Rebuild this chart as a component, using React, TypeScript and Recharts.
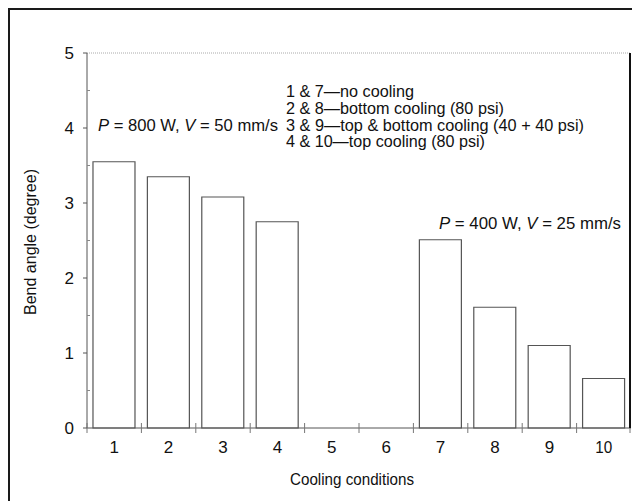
import { BarChart, Bar, XAxis, YAxis, ReferenceLine } from 'recharts';

// Bend angle per cooling condition (5 and 6 have no bar)
const conditions = ['1', '2', '3', '4', '5', '6', '7', '8', '9', '10'];
const bendAngle = [3.55, 3.35, 3.08, 2.75, null, null, 2.51, 1.61, 1.1, 0.66];
const yTicks = [0, 0.5, 1, 1.5, 2, 2.5, 3, 3.5, 4, 4.5, 5];
const legendLines = [
  { text: '1 & 7\u2014no cooling', len: 128 },
  { text: '2 & 8\u2014bottom cooling (80 psi)', len: 218 },
  { text: '3 & 9\u2014top & bottom cooling (40 + 40 psi)', len: 298 },
  { text: '4 & 10\u2014top cooling (80 psi)', len: 199 },
];

const data = conditions.map((c, i) => ({ name: c, angle: bendAngle[i] }));

const FONT = "'Liberation Sans', Arial, sans-serif";
// chart sits at the body's 8px margin (root clips to 624 wide); page = chart + 8
const W = 624;
const H = 493;
const M = { top: 45, right: 1, left: 0, bottom: 0 };
const Y_W = 79;
const X_H = 73;
const BAND = (W - M.right - Y_W) / conditions.length;
const PLOT_R = W - M.right;

function XTick({ x, y, payload, index }: any) {
  return (
    <g>
      <line x1={x - BAND / 2} x2={x - BAND / 2} y1={y - 5} y2={y + 5} stroke="#777" />
      {index === conditions.length - 1 && (
        <line x1={x + BAND / 2 - 1} x2={x + BAND / 2 - 1} y1={y - 5} y2={y + 5} stroke="#777" />
      )}
      <text x={x} y={y + 25} textAnchor="middle" fontSize={17} fill="#111" fontFamily={FONT}
        textLength={payload.value.length > 1 ? 17 : undefined} lengthAdjust="spacingAndGlyphs">
        {payload.value}
      </text>
    </g>
  );
}

function YTick({ x, y, payload }: any) {
  const major = Number.isInteger(payload.value);
  return (
    <g>
      {major ? (
        <>
          <line x1={x - 4} x2={x} y1={y} y2={y} stroke="#555" />
          <text x={x - 13} y={y + 6} textAnchor="end" fontSize={17} fill="#111" fontFamily={FONT}>
            {payload.value}
          </text>
        </>
      ) : (
        <line x1={x} x2={x + 3} y1={y} y2={y} stroke="#888" />
      )}
    </g>
  );
}

const txt = { fontFamily: FONT, fontSize: 17, fill: '#111', lengthAdjust: 'spacingAndGlyphs' as const };

export default function App() {
  return (
    <div style={{ position: 'relative', width: W, height: H }}>
      <BarChart width={W} height={H} data={data} margin={M} barCategoryGap="11%">
        <XAxis
          dataKey="name"
          height={X_H}
          axisLine={{ stroke: '#555' }}
          tickLine={false}
          tickSize={0}
          tickMargin={0}
          tick={<XTick />}
          interval={0}
        />
        <YAxis
          width={Y_W}
          domain={[0, 5]}
          ticks={yTicks}
          interval={0}
          axisLine={{ stroke: '#555' }}
          tickLine={false}
          tickSize={0}
          tickMargin={0}
          tick={<YTick />}
        />
        <ReferenceLine y={5} stroke="#aaa" strokeDasharray="1 1" />
        <Bar dataKey="angle" fill="#fff" stroke="#555" strokeWidth={1.2} isAnimationActive={false} />
      </BarChart>
      {/* overlay in chart coordinates: frame, plot's right border, annotations */}
      <svg width={W} height={H} style={{ position: 'absolute', left: 0, top: 0, pointerEvents: 'none' }}>
        <line x1={1} y1={0} x2={1} y2={H} stroke="#1a1a1a" strokeWidth={2} />
        <line x1={0} y1={1} x2={W} y2={1} stroke="#1a1a1a" strokeWidth={2} />
        <line x1={PLOT_R - 1} y1={M.top} x2={PLOT_R - 1} y2={H - X_H} stroke="#111" strokeWidth={2} />
        {legendLines.map((l, i) => (
          <text key={l.text} x={278} y={89 + i * 16.8} textLength={l.len} {...txt}>
            {l.text}
          </text>
        ))}
        <text x={90} y={123} textLength={180} {...txt}>
          <tspan fontStyle="italic">P</tspan> = 800 W, <tspan fontStyle="italic">V</tspan> = 50 mm/s
        </text>
        <text x={431} y={221} textLength={182} {...txt}>
          <tspan fontStyle="italic">P</tspan> = 400 W, <tspan fontStyle="italic">V</tspan> = 25 mm/s
        </text>
        <text x={344} y={477} textLength={124} textAnchor="middle" {...txt}>
          Cooling conditions
        </text>
        <text x={28} y={234} textLength={146} textAnchor="middle" transform="rotate(-90 28 234)" {...txt} fontSize={16}>
          Bend angle (degree)
        </text>
      </svg>
    </div>
  );
}
